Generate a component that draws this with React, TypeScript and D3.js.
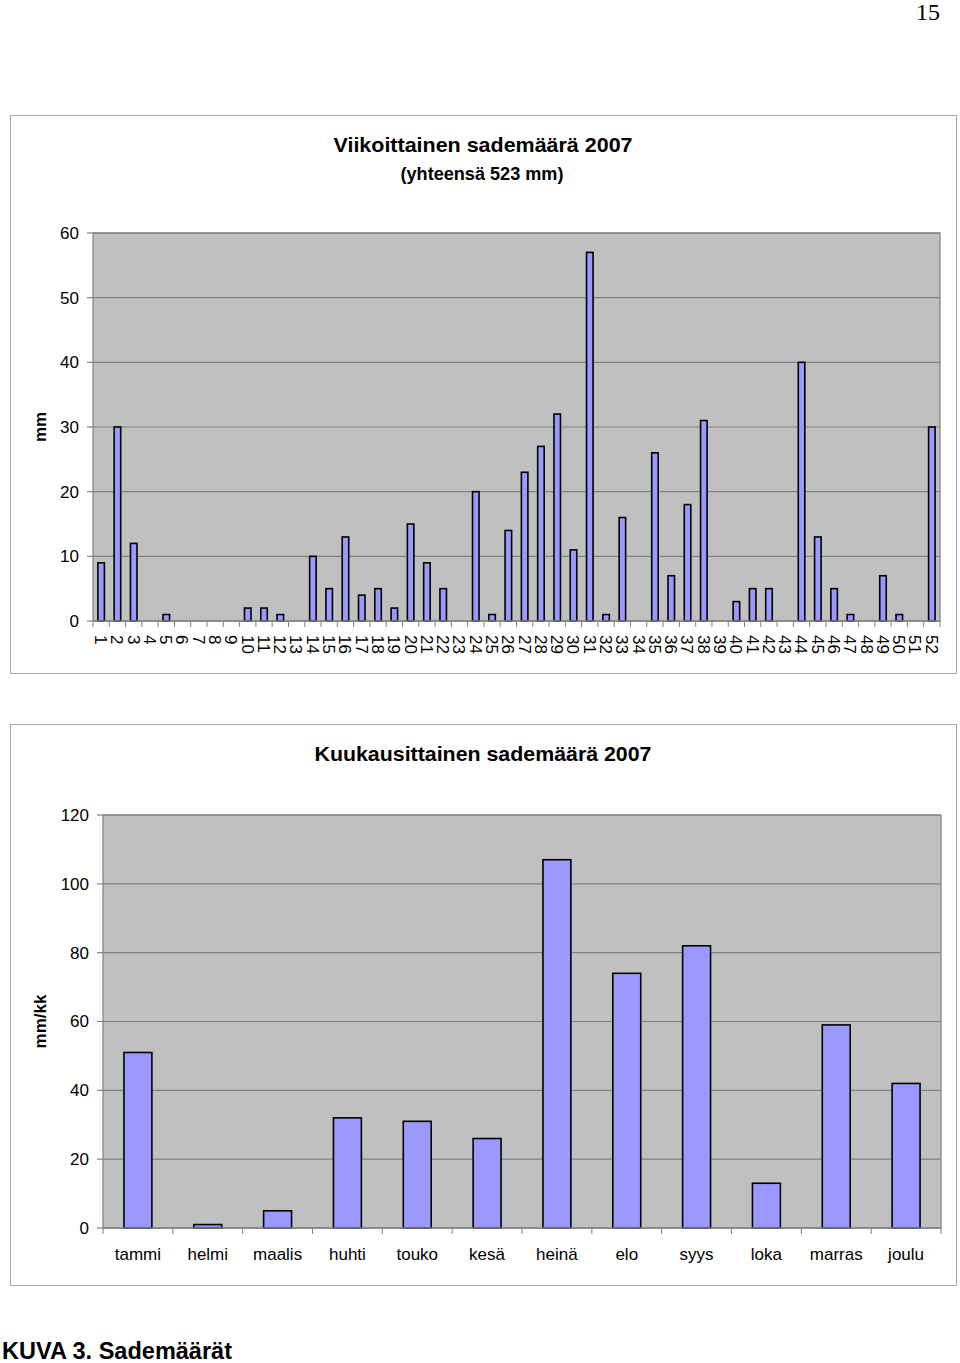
import React from "react";
import * as d3 from "d3";

const weeks: string[] = Array.from({ length: 52 }, (_, i) => String(i + 1));
const weeklyRain: number[] = [
  9, 30, 12, 0, 1, 0, 0, 0, 0, 2,
  2, 1, 0, 10, 5, 13, 4, 5, 2, 15,
  9, 5, 0, 20, 1, 14, 23, 27, 32, 11,
  57, 1, 16, 0, 26, 7, 18, 31, 0, 3,
  5, 5, 0, 40, 13, 5, 1, 0, 7, 1,
  0, 30,
];
const weeklyTicks: number[] = [0, 10, 20, 30, 40, 50, 60];

const months: string[] = ["tammi", "helmi", "maalis", "huhti", "touko", "kesä", "heinä", "elo", "syys", "loka", "marras", "joulu"];
const monthlyRain: number[] = [51, 1, 5, 32, 31, 26, 107, 74, 82, 13, 59, 42];
const monthlyTicks: number[] = [0, 20, 40, 60, 80, 100, 120];

const FONT = "Liberation Sans, Arial, sans-serif";
const BAR_FILL = "#9999ff";
const PLOT_BG = "#c0c0c0";
const GRID = "#808080";
const FRAME = "#a8a8a8";

type ChartProps = {
  cats: string[];
  vals: number[];
  ticks: number[];
  x0: number; x1: number; y0: number; y1: number;
  yLabel: string;
  yLabelX: number;
  rotateLabels: boolean;
  tickLabelX: number;
};

function BarChart({ cats, vals, ticks, x0, x1, y0, y1, yLabel, yLabelX, rotateLabels, tickLabelX }: ChartProps) {
  const x = d3.scaleBand<string>().domain(cats).range([x0, x1]).paddingInner(0.6).paddingOuter(0.3);
  const xb = d3.scaleBand<string>().domain(cats).range([x0, x1]);
  const y = d3.scaleLinear().domain([0, d3.max(ticks) as number]).range([y1, y0]);
  return (
    <g>
      <rect x={x0} y={y0} width={x1 - x0} height={y1 - y0} fill={PLOT_BG} stroke={GRID} strokeWidth={1.2} />
      {ticks.map((t) => (
        <g key={"t" + t}>
          {t > 0 && <line x1={x0} x2={x1} y1={y(t)} y2={y(t)} stroke={GRID} strokeWidth={1.2} />}
          <line x1={x0 - 6} x2={x0} y1={y(t)} y2={y(t)} stroke={GRID} strokeWidth={1.2} />
          <text x={tickLabelX} y={y(t)} dy="0.35em" textAnchor="end" fontSize={17} fontFamily={FONT} fill="#000">{t}</text>
        </g>
      ))}
      {cats.map((c, i) => (
        <rect key={"b" + c} x={(x(c) as number)} y={y(vals[i])} width={x.bandwidth()} height={y1 - y(vals[i])}
          fill={BAR_FILL} stroke="#000" strokeWidth={1.6} />
      ))}
      <line x1={x0} x2={x1} y1={y1} y2={y1} stroke={GRID} strokeWidth={1.4} />
      {cats.map((c) => (
        <line key={"xt" + c} x1={xb(c) as number} x2={xb(c) as number} y1={y1} y2={y1 + 6} stroke={GRID} strokeWidth={1} />
      ))}
      <line x1={x1} x2={x1} y1={y1} y2={y1 + 6} stroke={GRID} strokeWidth={1} />
      {cats.map((c) => {
        const cx = (xb(c) as number) + xb.bandwidth() / 2;
        return rotateLabels ? (
          <text key={"l" + c} transform={`translate(${cx},${y1 + 14}) rotate(90)`} dy="0.36em" fontSize={17} fontFamily={FONT} fill="#000">{c}</text>
        ) : (
          <text key={"l" + c} x={cx} y={y1 + 32} textAnchor="middle" fontSize={17} fontFamily={FONT} fill="#000">{c}</text>
        );
      })}
      <text transform={`translate(${yLabelX},${(y0 + y1) / 2}) rotate(-90)`} textAnchor="middle" fontSize={17} fontWeight="bold" fontFamily={FONT} fill="#000">{yLabel}</text>
    </g>
  );
}

export default function App() {
  return (
    <svg width={960} height={1363} style={{ position: "absolute", left: 0, top: 0, background: "#fff" }}>
      <text x={940} y={20} textAnchor="end" fontSize={24} fontFamily="Liberation Serif, Times New Roman, serif" fill="#000">15</text>

      <rect x={10.5} y={115.5} width={946} height={558} fill="#fff" stroke={FRAME} strokeWidth={1} />
      <text x={483} y={152} textAnchor="middle" fontSize={21} fontWeight="bold" fontFamily={FONT} fill="#000" textLength={299} lengthAdjust="spacingAndGlyphs">Viikoittainen sademäärä 2007</text>
      <text x={482} y={180} textAnchor="middle" fontSize={18} fontWeight="bold" fontFamily={FONT} fill="#000" textLength={163} lengthAdjust="spacingAndGlyphs">(yhteensä 523 mm)</text>
      <BarChart cats={weeks} vals={weeklyRain} ticks={weeklyTicks} x0={93} x1={940} y0={233} y1={621}
        yLabel="mm" yLabelX={46} rotateLabels={true} tickLabelX={79} />

      <rect x={10.5} y={724.5} width={946} height={561} fill="#fff" stroke={FRAME} strokeWidth={1} />
      <text x={483} y={761} textAnchor="middle" fontSize={21} fontWeight="bold" fontFamily={FONT} fill="#000" textLength={337} lengthAdjust="spacingAndGlyphs">Kuukausittainen sademäärä 2007</text>
      <BarChart cats={months} vals={monthlyRain} ticks={monthlyTicks} x0={103} x1={941} y0={815} y1={1228}
        yLabel="mm/kk" yLabelX={46} rotateLabels={false} tickLabelX={89} />

      <text x={2} y={1359} fontSize={23} fontWeight="bold" fontFamily={FONT} fill="#000" textLength={230} lengthAdjust="spacingAndGlyphs">KUVA 3. Sademäärät</text>
    </svg>
  );
}
